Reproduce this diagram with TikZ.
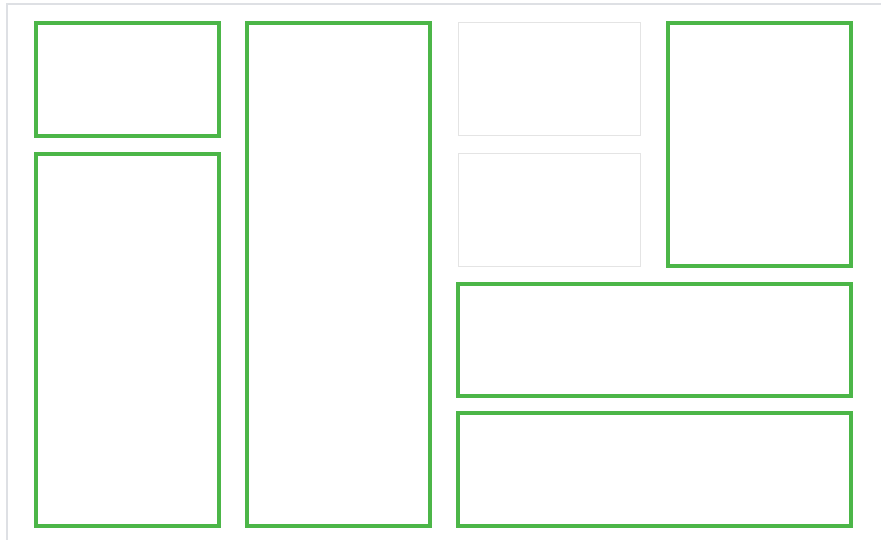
\documentclass[tikz,border=0pt]{standalone}
\usepackage{tikz}
\definecolor{panelgreen}{RGB}{76,182,72}
\definecolor{framegray}{RGB}{222,224,228}
\definecolor{emptygray}{RGB}{228,228,228}

\begin{document}
\begin{tikzpicture}[x=1pt,y=-1pt,
  panel/.style={draw=panelgreen,line width=3.6pt},
  emptypanel/.style={draw=emptygray,line width=1pt}]
\useasboundingbox (0,0) rectangle (891,540);
\fill[white] (0,0) rectangle (891,540);
\draw[framegray,line width=1.2pt] (7,540) -- (7,4) -- (881,4);
\draw[panel] (36,23) rectangle (219,136);
\draw[panel] (36,154) rectangle (219,526);
\draw[panel] (247,23) rectangle (430,526);
\draw[emptypanel] (458,23) rectangle (640,136);
\draw[emptypanel] (458,154) rectangle (640,266);
\draw[panel] (668,23) rectangle (851,266);
\draw[panel] (458,284) rectangle (851,396);
\draw[panel] (458,413) rectangle (851,526);
\end{tikzpicture}
\end{document}
